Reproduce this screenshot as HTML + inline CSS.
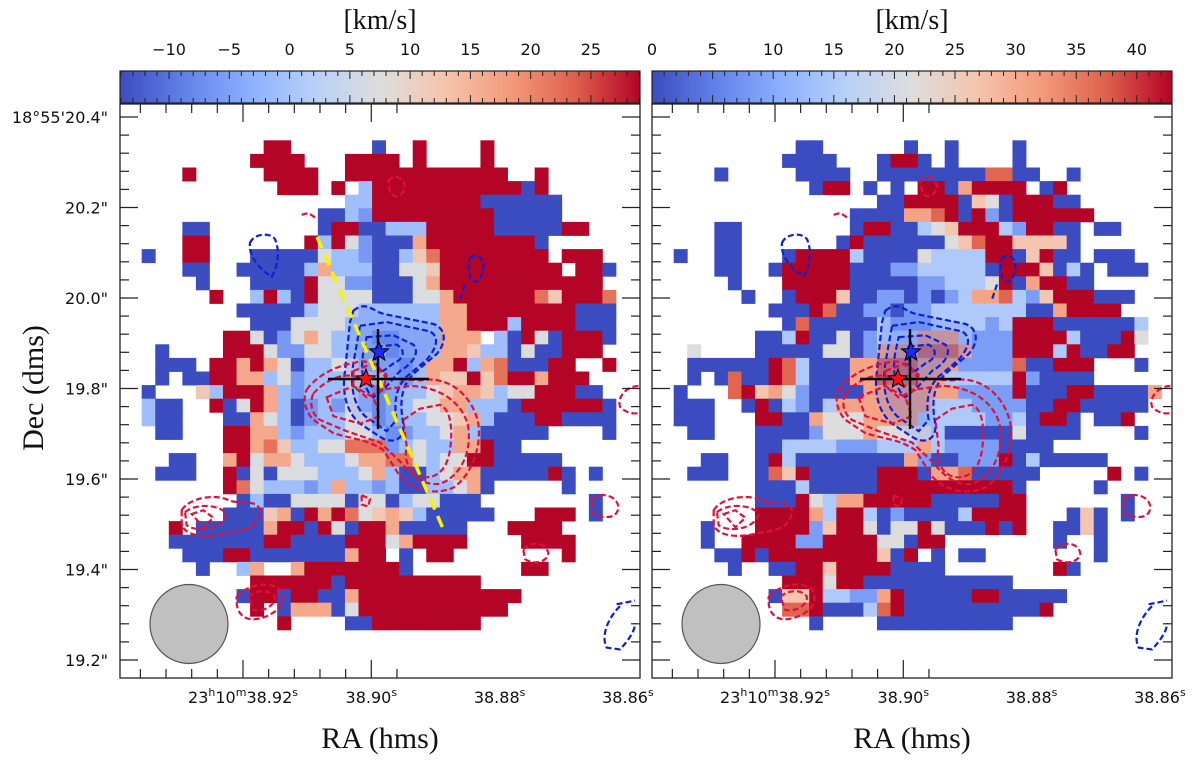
<!DOCTYPE html>
<html><head><meta charset="utf-8"><style>
html,body{margin:0;padding:0;background:#fff;}
svg{display:block;}
.tk{font-family:"DejaVu Sans","Liberation Sans",sans-serif;font-size:16px;fill:#111;}
.ttl{font-family:"Liberation Serif",serif;fill:#111;}
</style></head><body>
<svg id="fig" width="1200" height="761" viewBox="0 0 1200 761" xmlns="http://www.w3.org/2000/svg">
<defs>
<linearGradient id="cw" x1="0" x2="1" y1="0" y2="0">
<stop offset="0" stop-color="rgb(59,76,192)"/><stop offset="0.125" stop-color="rgb(98,130,234)"/><stop offset="0.25" stop-color="rgb(141,176,254)"/><stop offset="0.375" stop-color="rgb(184,208,249)"/><stop offset="0.5" stop-color="rgb(221,221,221)"/><stop offset="0.625" stop-color="rgb(245,196,173)"/><stop offset="0.75" stop-color="rgb(244,154,123)"/><stop offset="0.875" stop-color="rgb(222,96,77)"/><stop offset="1" stop-color="rgb(180,4,38)"/>
</linearGradient>
<g id="contours">
<path d="M700,560 C740,530 760,565 800,570 L940,595 C985,610 975,650 950,675 L890,720 C850,750 835,790 850,860 C855,905 815,915 780,895 L720,860 C680,830 665,780 675,720 L690,590 Z" fill="rgba(70,110,230,0.18)" stroke="#1020d0"/>
<path d="M720,600 L800,590 L930,615 C960,630 950,660 920,690 L860,735 C830,760 820,800 830,850 L800,880 L735,840 C700,810 690,760 700,700 Z" fill="rgba(70,110,230,0.12)" stroke="#1020d0"/>
<path d="M740,630 L820,625 L880,650 C900,670 880,700 840,720 L800,760 L760,790 C730,770 720,720 730,670 Z" fill="rgba(70,110,230,0.12)" stroke="#1020d0"/>
<path d="M770,655 L830,650 C860,665 850,690 820,700 L790,720 C765,710 760,680 770,655 Z" fill="none" stroke="#1020d0"/>
<path d="M560,770 C600,720 680,700 700,700 C750,680 780,720 800,740 L900,745 C990,730 1060,790 1075,860 C1085,930 1050,1000 1000,1030 C950,1050 880,1040 840,1000 L790,930 C740,900 690,900 640,885 L580,850 C550,820 550,790 560,770 Z" fill="none" stroke="#e0103a"/>
<path d="M580,780 C620,740 680,720 720,740 L780,770 L870,760 C950,760 1030,800 1045,870 C1055,940 1020,1000 960,1020 C900,1025 870,990 840,960 L780,910 L680,880 L600,850 C570,830 570,800 580,780 Z" fill="none" stroke="#e0103a"/>
<path d="M850,850 L900,820 L960,810 C990,820 1000,870 990,930 C980,990 940,1010 900,1000 C870,990 850,960 860,920 Z" fill="none" stroke="#e0103a"/>
<path d="M620,790 L700,760 L760,790 L780,840 L720,860 L640,840 Z" fill="none" stroke="#e0103a"/>
<path d="M700,720 L760,700 L800,730 L790,770 L740,790 L700,760 Z" fill="none" stroke="#e0103a"/>
<path d="M390,380 C400,355 450,350 465,370 C480,400 475,440 455,470 L440,460 C410,440 385,410 390,380 Z" fill="none" stroke="#1020d0"/>
<path d="M1050,420 C1070,405 1095,420 1090,450 C1085,475 1070,490 1055,480 C1045,460 1045,440 1050,420 Z M1035,490 L1020,530" fill="none" stroke="#1020d0"/>
<path d="M805,215 C820,195 850,205 855,230 C850,255 825,265 810,245 Z" fill="none" stroke="#e0103a"/>
<path d="M545,305 L565,300 L585,312" fill="none" stroke="#e0103a"/>
<path d="M185,1090 C210,1055 290,1045 330,1065 C370,1075 410,1060 420,1090 C420,1130 380,1145 320,1150 C260,1165 200,1160 185,1130 Z M195,1095 C230,1070 300,1075 320,1100 C310,1140 230,1150 200,1130 Z M215,1100 L250,1090 L280,1110 L250,1135 Z" fill="none" stroke="#e0103a"/>
<path d="M350,1320 C380,1290 440,1275 480,1300 C500,1330 480,1360 430,1375 C380,1390 345,1370 350,1320 Z M385,1320 C410,1300 450,1300 465,1320 C465,1345 430,1360 400,1355 Z" fill="none" stroke="#e0103a"/>
<path d="M1210,1195 C1230,1170 1280,1175 1285,1205 C1280,1230 1240,1235 1215,1220 Z" fill="none" stroke="#e0103a"/>
<path d="M1415,1060 C1440,1040 1490,1050 1495,1080 C1495,1110 1460,1115 1420,1100 Z" fill="none" stroke="#e0103a"/>
<path d="M1490,1340 L1545,1330 M1500,1345 C1470,1370 1440,1420 1460,1455 L1500,1460 C1530,1430 1545,1410 1545,1390" fill="none" stroke="#1020d0"/>
<path d="M1555,760 C1520,760 1490,790 1500,815 C1520,835 1550,835 1560,830" fill="none" stroke="#e0103a"/>
<path d="M725,1050 L750,1060 L745,1080 L725,1075 Z" fill="none" stroke="#e0103a"/>
</g>
</defs>
</svg>
<script>
// ---- data ----
const leftRows = [
".........RR......B..R....R..........",
"........RRRR...RRRR.R....R..........",
"...R.....RRRR..RRRRRRRRRRRR..R......",
"..........RRR.R.lRRRRRRRRRRRBR......",
"...............llRRRRRRRRBBBBBB.....",
".............BBlmRRRRRRRRRBBBBB.....",
"...BB........BRRBBlllRRRRRBBBBBRR...",
"...RR.......RlRwmBBBoRRRRRRRRB......",
"B..RR...BBBBBwllmBBlprRRRRRRRR.RRR..",
"...BB..BBBBBlolllBBwwpRRRRRRRRR.RRB.",
"....B...BBBBRwwmmBBBwoRRRRRRRRRRRR..",
".....R..lRlBRwwwwBBBwwoRRRRRRrpRRRr.",
".......BBBBBlwwwllllllooRRRRRRRRBBB.",
"........BBBwwwwlllllllooRRRlRRRRBBB.",
"......RRwBmwowlllmmllloooWlBRwBRRRB.",
".B....RRRwmmwwllllmllloopllBwBBRRR..",
".BBB.RRoRowBllwwlllmlooRlorBBBRR..R.",
".B.BBRRoolwmlllwwwlmloppRprRRoRRR...",
"B...plRRRolmlllwlmlllwpooplwwRRRBB..",
"lBB..RBwRolBmlmwlmllwwoolllBRRRRRRB.",
"lBB...BBowlBmllwwmlllwwpolBBBRRBBBB.",
".BB...RRoolmlllwwlmmllwolBBBBB....B.",
"......RRorpllwwrrrmlwllooRBB........",
"..BB..oRwoowlllwoorrwlwwRRBBBBB.....",
".BBB..RBwBwwwlllwolBBlwooBBBBBRB.B..",
"......RrwlllmlollmlBBllwoB.....B....",
".......BlBBwwwwBwwBlwwBBB........B..",
"......BBBpoBRoRrwpoplBBBBB...RRR.B..",
"..R.BBBBBoRRBRwBRRoBBBBB...RRRR.....",
"..BBBBBBBRRBBBBRRRwoRRRR....RRRR....",
"...BBBRRBBBBBBBoRR.B.RR........R....",
"....B..lo..oRRRRRRRB........RR......",
"........RRRRRRBRRRRRRRRRR...........",
".......BRRBRRBBoRRRRRRRRRRRR........",
"........R.BoooBwRRRRRRRRRRR.........",
"..........R....BBRRRRRRRR..........."
];
const rightRows = [
".........BB......B..B....B..........",
"........BBBB...BRRB.B....B..........",
"...B.....BBBB..BBBBBBBBrrBB..B......",
"..........BRR.B.B.RRBoRRRR.BR.......",
"...............BBRRRRBpwBRRRBB......",
".............BBBBoorRBRmBRRRRRR.....",
"...BB........BRRBBlwpRRRlmRRBB.BB...",
"...BB.......BRBBBBBBwprRRppppB......",
"B..BB...BRRRRlBBBBwllllRRBpRBB.BBB..",
"...BB..BRRRRRBBBmmlllllBRRRpBlB.BBB.",
"....B...RRRRRBBBBBmmlllwRBoRRBB.....",
".....B..BRRRpBBmmBmBmloorlmpRRRBBB..",
".......BBBRrBBmmBmmlllllllBBoRRRR...",
"........BrBBBBBlmmmllllmlRRRBBBBBBl.",
"......BBlRBBwBmlllooolmmmRRRRlBBBRw.",
".w....BBBBBwwBmooorrrommmRRRlRBBRR..",
".BBBBBBRrlBBBoorrrooommmmrBBRRR...B.",
".B.BrBBRrlBBBoorrroolllllRmBBBB.....",
"B...rRpowmBBBBooooooommmmRBBBRRBBBBo",
"BBB..BRBlmBlooooooolllmmmmBBRRBBBBB.",
"BBB...RRBBowwwoooolllllmmlBRRB.BBR..",
".BB...BBBBmwwwowwwwlBBBBBwBBBB....B.",
"......BBllllmmmlllolmmmmBBBB........",
"..BB..BRlBBBBBBBBomBBmmmRBlBBBBB....",
".BBB..BrpRBBBBBRRRBoorBBBBB.....R.B.",
"......BBBlBBBBBRRRRRRRRRRB.....B....",
"......BBBRwlooRRRRRBBBBBRR.......B..",
"......RRRRolRRlBmBBBBlRRRR...BpB.B..",
"..B...RRRRmpRRwBwwRwBBBRBR..BBpB....",
"..B..RRRRmmRRRRwwBRR........B..B....",
"...BBRBRRRRRRRRpBR.B.BB........B....",
"....B..BBRRpRRRRBBBB........RB......",
"........RRRwRRBBBBBBBBBBB...........",
".......BppRllmmoRBBBBBRRBBBBB.......",
"........rrRBBBlrRBBBBBBBBBBR........",
"..........B....BBBBBBBBBB..........."
];
// colour-class -> velocity value (km/s) for each map
const leftCodes = {B:-14, m:-6, l:-1, w:7, p:12, o:16.5, r:22, R:29};
const rightCodes = {B:0, m:8.5, l:15, w:21.5, p:26.5, o:31, r:37, R:43};
const leftCbarTicks = [-10,-5,0,5,10,15,20,25];
const rightCbarTicks = [0,5,10,15,20,25,30,35,40];
const decTicks = [20.4,20.2,20.0,19.8,19.6,19.4,19.2];
const decLabels = ["18°55'20.4\"","20.2\"","20.0\"","19.8\"","19.6\"","19.4\"","19.2\""];
const raTicks = [38.92,38.90,38.88,38.86];

// ---- helpers ----
const NS="http://www.w3.org/2000/svg";
const svg=document.getElementById('fig');
function mk(tag,attrs,parent){const e=document.createElementNS(NS,tag);for(const k in attrs)e.setAttribute(k,attrs[k]);(parent||svg).appendChild(e);return e;}
const stops=[[0,59,76,192],[0.125,98,130,234],[0.25,141,176,254],[0.375,184,208,249],[0.5,221,221,221],[0.625,245,196,173],[0.75,244,154,123],[0.875,222,96,77],[1,180,4,38]];
function cw(t){t=Math.max(0,Math.min(1,t));for(let i=1;i<stops.length;i++){if(t<=stops[i][0]){const a=stops[i-1],b=stops[i],f=(t-a[0])/(b[0]-a[0]);return `rgb(${Math.round(a[1]+f*(b[1]-a[1]))},${Math.round(a[2]+f*(b[2]-a[2]))},${Math.round(a[3]+f*(b[3]-a[3]))})`;}}return 'rgb(180,4,38)';}
const decY=v=>207.5+(20.2-v)*452.5;
const raX=(s,x0)=>x0+123+(38.92-s)*6415;

function panel(px,W,rows,codes,vmin,vmax,cticks,name,showYellow){
  const top=104,bot=678,right=px+W;
  const g=mk('g',{});
  
  
  // heatmap cells
  const cellW=13.55,cellH=13.6,gx=px+21.7,gy=140.3;
  rows.forEach((row,r)=>{
    for(let c=0;c<36&&c<row.length;c++){
      const ch=row[c]; if(!(ch in codes)) continue;
      const v=codes[ch];
      const cell=mk('rect',{x:(gx+c*cellW).toFixed(2),y:(gy+r*cellH).toFixed(2),width:cellW+0.4,height:cellH+0.4,fill:cw((v-vmin)/(vmax-vmin))},g);
      
      
    }
  });
  // contours
  const cg=mk('g',{transform:`translate(${px},100) scale(${1/3},${1/2.657})`,'stroke-width':2.2,'stroke-dasharray':'6 3'},g);
  
  
  const src=document.getElementById('contours');
  for(const p of src.children){const q=p.cloneNode(true);q.setAttribute('vector-effect','non-scaling-stroke');cg.appendChild(q);}
  if(showYellow){
    const yl=mk('line',{x1:px+197,y1:237,x2:px+325,y2:533,stroke:'#f5f500','stroke-width':3.5,'stroke-dasharray':'12 7'},g);
    
    
  }
  // crosshair
  const ch1=mk('line',{x1:px+208,y1:379,x2:px+309,y2:379,stroke:'#000','stroke-width':2.4},g);
  
  
  const ch2=mk('line',{x1:px+258,y1:329,x2:px+258,y2:429,stroke:'#000','stroke-width':2.4},g);
  
  
  function star(cx,cy,fill,nm){let d='';for(let i=0;i<10;i++){const a=-Math.PI/2+i*Math.PI/5,rr=i%2?4.2:10;d+=(i?'L':'M')+(cx+rr*Math.cos(a)).toFixed(1)+','+(cy+rr*Math.sin(a)).toFixed(1);}const s=mk('path',{d:d+'Z',fill:fill,stroke:'#000','stroke-width':1},g);}
  star(px+259,352,'#1a2bff','blue-star');
  star(px+246,379,'#ff1010','red-star');
  // beam
  const bm=mk('ellipse',{cx:px+69,cy:624,rx:39,ry:39.5,fill:'#c0c0c0',stroke:'#555','stroke-width':1.2},g);
  
  
  // frame
  const fr=mk('rect',{x:px,y:top,width:W,height:bot-top,fill:'none',stroke:'#222','stroke-width':1.3},g);
  
  
  // y ticks
  for(let v=20.44;v>19.14;v-=0.04){const y=decY(v);if(y<top+2||y>bot-2)continue;
    const maj=Math.abs((v*10)%2)<0.05||Math.abs((v*10)%2-2)<0.05;const L=maj?18:9;
    mk('line',{x1:px,y1:y,x2:px+L,y2:y,stroke:'#222','stroke-width':1.2},g);
    mk('line',{x1:right,y1:y,x2:right-L,y2:y,stroke:'#222','stroke-width':1.2},g);}
  // x ticks
  for(let k=-6;k<25;k++){const x=px+123-k*25.66;if(x<px+2||x>right-2)continue;const maj=((k%5)+5)%5===0;const L=maj?18:9;
    mk('line',{x1:x,y1:bot,x2:x,y2:bot-L,stroke:'#222','stroke-width':1.2},g);
    mk('line',{x1:x,y1:top,x2:x,y2:top+L,stroke:'#222','stroke-width':1.2},g);}
  // x tick labels
  raTicks.forEach((s,i)=>{const x=raX(s,px);const t=mk('text',{x:x,y:703,'text-anchor':'middle',class:'tk'},g);
    
    if(i===0){t.innerHTML='23<tspan dy="-7" font-size="11">h</tspan><tspan dy="7">10</tspan><tspan dy="-7" font-size="11">m</tspan><tspan dy="7">38.92</tspan><tspan dy="-7" font-size="11">s</tspan>';}
    else{t.innerHTML=s.toFixed(2)+'<tspan dy="-7" font-size="11">s</tspan>';}});
  const xt=mk('text',{x:px+260,y:748,'text-anchor':'middle',class:'ttl','font-size':30},g);
  xt.textContent='RA (hms)';
  
  // colorbar
  const cb=mk('rect',{x:px,y:71,width:W,height:32,fill:'url(#cw)',stroke:'#222','stroke-width':1.2},g);
  
  const cx=v=>px+(v-vmin)/(vmax-vmin)*W;
  for(let v=Math.ceil(vmin);v<=vmax;v++){const x=cx(v);const maj=v%5===0;
    mk('line',{x1:x,y1:71,x2:x,y2:71+(maj?8:5),stroke:'#222','stroke-width':1},g);
    mk('line',{x1:x,y1:103,x2:x,y2:103-(maj?8:5),stroke:'#222','stroke-width':1},g);}
  cticks.forEach(v=>{const t=mk('text',{x:cx(v),y:55,'text-anchor':'middle',class:'tk','font-size':17},g);
    t.textContent=(v<0?'\u2212'+(-v):''+v);
    });
  const ct=mk('text',{x:px+W/2,y:29,'text-anchor':'middle',class:'ttl','font-size':28},g);
  ct.textContent='[km/s]';
  
}
panel(120,520,leftRows,leftCodes,-14.07,29.07,leftCbarTicks,'left-velocity-panel',true);
panel(652,520,rightRows,rightCodes,0,42.9,rightCbarTicks,'right-velocity-panel',false);
// y tick labels (left only)
decTicks.forEach((v,i)=>{const t=mk('text',{x:108,y:decY(v)+6,'text-anchor':'end',class:'tk'});
  t.textContent=decLabels[i];
  
  });
const yt=mk('text',{x:0,y:0,'text-anchor':'middle',class:'ttl','font-size':30,transform:'translate(43,388) rotate(-90)'});
yt.textContent='Dec (dms)';


</script>
</body></html>
